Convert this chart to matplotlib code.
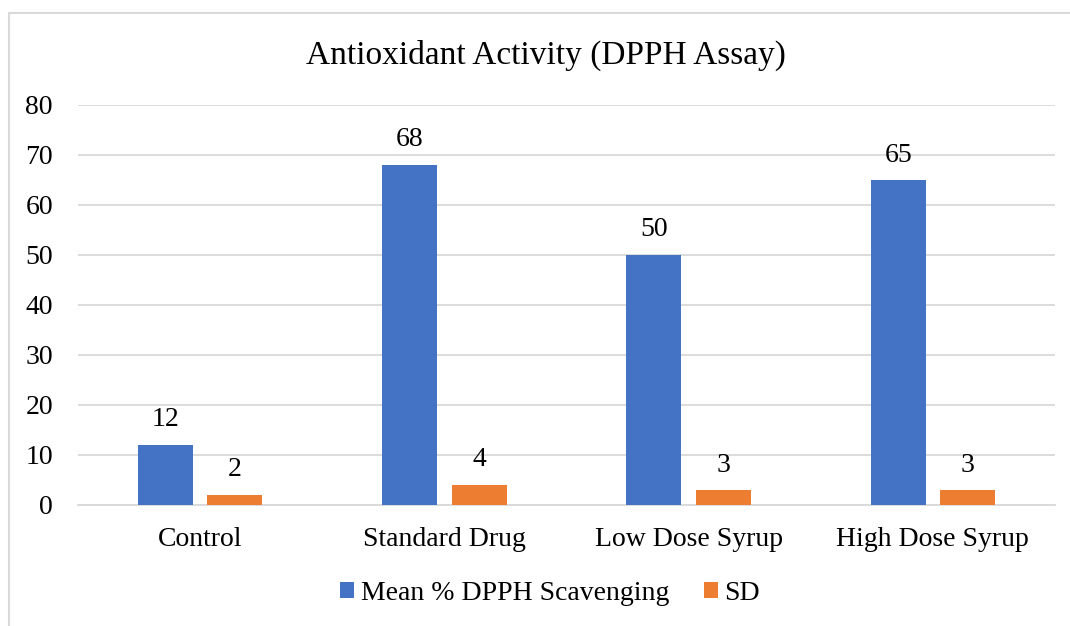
import numpy as np
import matplotlib
matplotlib.use("Agg")
import matplotlib.pyplot as plt
from matplotlib.patches import Rectangle

# data
categories = ["Control", "Standard Drug", "Low Dose Syrup", "High Dose Syrup"]
mean_scavenging = [12, 68, 50, 65]
sd_values = [2, 4, 3, 3]
series_names = ["Mean % DPPH Scavenging", "SD"]

blue = "#4472C4"
orange = "#ED7D31"
grid_col = "#D9D9D9"

plt.rcParams["font.family"] = ["Liberation Serif", "DejaVu Serif"]

fig = plt.figure(figsize=(10.7, 6.26), dpi=100)
ax = fig.add_axes([78 / 1070, 1 - 505 / 626, 977 / 1070, 400 / 626])

# outer chart frame (only top and left edges fall inside the picture)
fig.patches.append(Rectangle((9 / 1070, -0.05), 1.2, (626 - 13) / 626 + 0.05,
                             transform=fig.transFigure, fill=False,
                             edgecolor=grid_col, linewidth=1.5))

x = np.arange(len(categories))
w = 0.225
off = 0.142
b1 = ax.bar(x - off, mean_scavenging, w, color=blue, label=series_names[0], zorder=3)
b2 = ax.bar(x + off, sd_values, w, color=orange, label=series_names[1], zorder=3)

for bars in (b1, b2):
    for r in bars:
        ax.text(r.get_x() + r.get_width() / 2, r.get_height() + 2.5,
                "%d" % r.get_height(), ha="center", va="bottom", fontsize=20)

ax.set_xlim(-0.5, len(categories) - 0.5)
ax.set_ylim(0, 80)
ax.set_yticks(range(0, 81, 10))
ax.set_xticks(x)
ax.set_xticklabels(categories)
ax.tick_params(axis="both", length=0, labelsize=20)
ax.tick_params(axis="y", pad=18)
ax.tick_params(axis="x", pad=16)
ax.yaxis.grid(True, color=grid_col, linewidth=1.3, zorder=0)
for s in ax.spines.values():
    s.set_visible(False)
ax.spines["bottom"].set_visible(True)
ax.spines["bottom"].set_color(grid_col)
ax.spines["bottom"].set_linewidth(1.3)

fig.text(546 / 1070, 1 - 55 / 626, "Antioxidant Activity (DPPH Assay)", ha="center",
         va="center", fontsize=24)

leg = fig.legend(handles=[b1, b2], loc="center", bbox_to_anchor=(550 / 1070, 1 - 593 / 626),
                 ncol=2, frameon=False, fontsize=20, handlelength=0.5,
                 handleheight=0.5, handletextpad=0.25, columnspacing=1.25)

fig.savefig("out.png", dpi=100)
